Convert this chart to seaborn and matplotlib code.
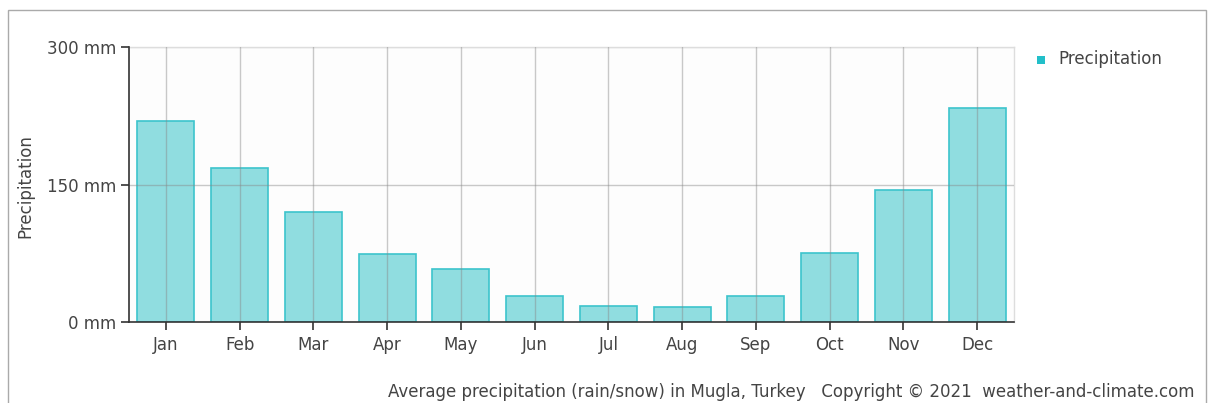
import matplotlib
matplotlib.use("Agg")
import matplotlib.pyplot as plt
import seaborn as sns
import pandas as pd
from matplotlib.patches import Rectangle

months = ["Jan", "Feb", "Mar", "Apr", "May", "Jun", "Jul", "Aug", "Sep", "Oct", "Nov", "Dec"]
precip_mm = [219, 168, 120, 74, 58, 28, 17, 16, 28, 75, 144, 233]
y_ticks = [0, 150, 300]
y_tick_labels = ["0 mm", "150 mm", "300 mm"]

df = pd.DataFrame({"month": months, "precip": precip_mm})

sns.set_style("white")
plt.rcParams["font.family"] = ["DejaVu Sans"]
FS = 12

fig = plt.figure(figsize=(12.09, 4.03), dpi=100)
fig.patch.set_facecolor("white")
ax = fig.add_axes([129 / 1209, 1 - 322 / 403, (1014 - 129) / 1209, (322 - 47) / 403])
ax.set_facecolor("#fdfdfd")

sns.barplot(data=df, x="month", y="precip", ax=ax, color="#90dde0",
            edgecolor="#3cc4cc", linewidth=1.2, width=0.77, saturation=1, zorder=2)

ax.set_ylim(0, 300)
ax.set_xlim(-0.5, len(months) - 0.5)
ax.set_yticks(y_ticks)
ax.set_yticklabels(y_tick_labels)

# grid drawn over the bars, as in the reference
for i in range(len(months)):
    ax.axvline(i, color="#888888", lw=1, alpha=0.45, zorder=3)
ax.axhline(150, color="#888888", lw=1, alpha=0.45, zorder=3)
ax.axhline(300, color="#dddddd", lw=1, zorder=1)

for s in ["top", "right"]:
    ax.spines[s].set_color("#dddddd")
    ax.spines[s].set_linewidth(1)
for s in ["left", "bottom"]:
    ax.spines[s].set_color("#333333")
    ax.spines[s].set_linewidth(1.2)
    ax.spines[s].set_zorder(4)

ax.tick_params(axis="both", which="both", direction="out", length=6, width=1.2,
               color="#333333", labelsize=FS, labelcolor="#444444")
ax.tick_params(axis="y", pad=3)
ax.tick_params(axis="x", pad=4)
ax.tick_params(left=True, bottom=True)
ax.set_xlabel("")
ax.set_ylabel("")
fig.text(25 / 1209, 1 - 186 / 403, "Precipitation", fontsize=FS, color="#444444",
         rotation=90, ha="center", va="center")

# legend
fig.patches.append(Rectangle((1037 / 1209, 1 - 64 / 403), 8 / 1209, 8 / 403,
                             transform=fig.transFigure, facecolor="#22bfc9",
                             edgecolor="none"))
fig.text(1058 / 1209, 1 - 59 / 403, "Precipitation", fontsize=FS,
         color="#444444", va="center", ha="left")

fig.text(1195 / 1209, 1 - 392 / 403,
         "Average precipitation (rain/snow) in Mugla, Turkey   Copyright \u00a9 2021  weather-and-climate.com",
         fontsize=FS, color="#444444", ha="right", va="center")

# outer frame
fig.patches.append(Rectangle((8 / 1209, -0.05), 1198 / 1209, 1 - 10 / 403 + 0.05,
                             transform=fig.transFigure, facecolor="none",
                             edgecolor="#aaaaaa", linewidth=1))

fig.savefig("out.png", dpi=100)
